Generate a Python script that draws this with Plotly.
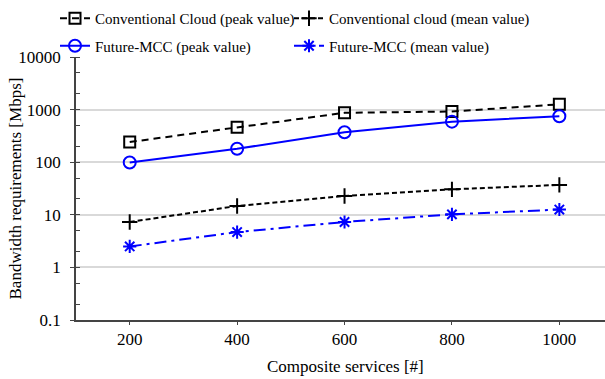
import plotly.graph_objects as go

services = [200, 400, 600, 800, 1000]
cc_peak = [242, 460, 870, 920, 1260]
cc_mean = [7.3, 14.7, 22.8, 30.5, 37]
mcc_peak = [99, 180, 370, 590, 748]
mcc_mean = [2.5, 4.7, 7.3, 10.2, 12.6]
y_ticks = [0.1, 1, 10, 100, 1000, 10000]
y_tick_labels = ["0.1", "1", "10", "100", "1000", "10000"]
x_ticks = [200, 400, 600, 800, 1000]

font = "Liberation Serif, Times New Roman, serif"

fig = go.Figure()
fig.add_trace(go.Scatter(x=services, y=cc_peak, mode="lines+markers",
                         name="Conventional Cloud (peak value)", legend="legend", legendgroup="a",
                         line=dict(color="black", width=2, dash="7px,5px"),
                         marker=dict(symbol="square-open", size=11, color="black", line=dict(width=2))))
fig.add_trace(go.Scatter(x=services, y=mcc_peak, mode="lines+markers",
                         name="Future-MCC (peak value)", legend="legend", legendgroup="b",
                         line=dict(color="#0000ff", width=2),
                         marker=dict(symbol="circle-open", size=12, color="#0000ff", line=dict(width=2))))
fig.add_trace(go.Scatter(x=services, y=cc_mean, mode="lines+markers",
                         name="Conventional cloud (mean value)", legend="legend2", legendgroup="c",
                         line=dict(color="black", width=2, dash="5px,3px"),
                         marker=dict(symbol="cross-thin-open", size=11, color="black", line=dict(width=2, color="black"))))
fig.add_trace(go.Scatter(x=services, y=mcc_mean, mode="lines+markers",
                         name="Future-MCC (mean value)", legend="legend2", legendgroup="d",
                         line=dict(color="#0000ff", width=2, dash="12px,5px,3px,5px"),
                         marker=dict(symbol="asterisk-open", size=11, color="#0000ff", line=dict(width=2, color="#0000ff"))))

leg_common = dict(orientation="v", yanchor="top", xanchor="left", xref="container", yref="container",
                  itemwidth=30, tracegroupgap=5, font=dict(family=font, size=15, color="black"),
                  bgcolor="rgba(0,0,0,0)", borderwidth=0)

fig.update_layout(
    width=605, height=379,
    margin=dict(l=76, r=0, t=57, b=59, autoexpand=False),
    paper_bgcolor="white", plot_bgcolor="white",
    font=dict(family=font, size=17, color="black"),
    showlegend=True,
    legend=dict(x=55 / 605, y=1 - 2 / 379, **leg_common),
    legend2=dict(x=289 / 605, y=1 - 2 / 379, **leg_common),
    xaxis=dict(range=[100, 1085], tickvals=x_ticks, ticks="outside", ticklen=3,
               tickcolor="#444", showline=True, linecolor="#444", linewidth=1.5,
               showgrid=False, zeroline=False, automargin=False,
               tickfont=dict(family=font, size=17)),
    yaxis=dict(type="log", range=[-1, 4], tickvals=y_ticks, ticktext=y_tick_labels,
               ticks="outside", ticklen=4, tickcolor="#444", tickfont=dict(family=font, size=17),
               ticklabelstandoff=6, automargin=False,
               showline=True, linecolor="#444", linewidth=1.5,
               showgrid=True, gridcolor="#d9d9d9", gridwidth=1.5, zeroline=False,
               minor=dict(ticks="inside", ticklen=4, tickcolor="#444", showgrid=False)),
    annotations=[
        dict(text="Bandwidth requirements [Mbps]", textangle=-90,
             xref="paper", yref="paper", x=-61 / 529, y=0.5,
             xanchor="center", yanchor="middle", showarrow=False,
             font=dict(family=font, size=17, color="black")),
        dict(text="Composite services [#]",
             xref="paper", yref="paper", x=(345 - 76) / 529, y=-46 / 263,
             xanchor="center", yanchor="middle", showarrow=False,
             font=dict(family=font, size=17, color="black")),
    ],
)

fig.write_html("out.html", config={"displayModeBar": False},
               post_script="document.body.style.margin='0px';")
